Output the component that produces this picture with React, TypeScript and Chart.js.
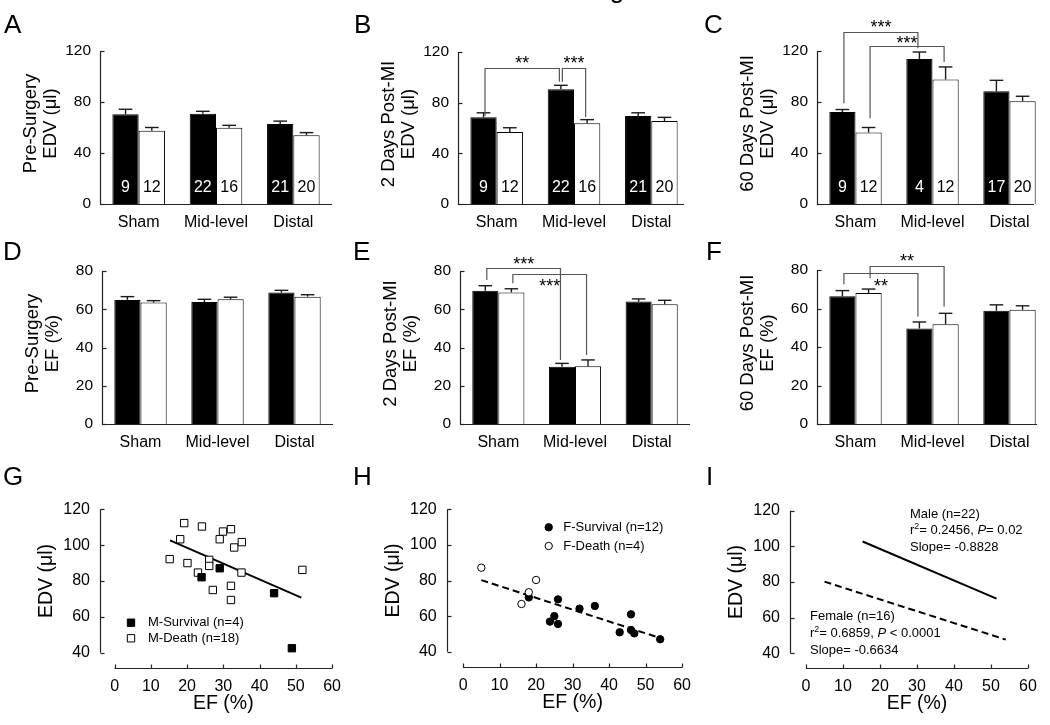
import React, { useEffect, useRef } from "react";
import { Chart, registerables } from "chart.js";

Chart.register(...registerables);

const FONT = '"Liberation Sans", Arial, Helvetica, sans-serif';

// ---------------- shared labels / ticks ----------------
const categories = ["Sham", "Mid-level", "Distal"];
const groupNames = ["Male", "Female"];
const edvTicks = [0, 40, 80, 120];
const efTicks = [0, 20, 40, 60, 80];
const scatterXTicks = [0, 10, 20, 30, 40, 50, 60];
const scatterYTicks = [40, 60, 80, 100, 120];

// ---------------- A: pre-surgery EDV ----------------
const preEdvMale = [70.3, 70.8, 62.7];
const preEdvMaleErr = [4.0, 1.9, 2.3];
const preEdvFemale = [57.5, 59.8, 53.9];
const preEdvFemaleErr = [2.5, 1.9, 2.1];
const nMalePre = [9, 22, 21];
const nFemalePre = [12, 16, 20];

// ---------------- B: 2 days post-MI EDV ----------------
const d2EdvMale = [68.4, 90.5, 69.5];
const d2EdvMaleErr = [3.6, 3.2, 2.5];
const d2EdvFemale = [56.8, 63.7, 65.5];
const d2EdvFemaleErr = [3.4, 2.9, 2.9];
const nMale2d = [9, 22, 21];
const nFemale2d = [12, 16, 20];

// ---------------- C: 60 days post-MI EDV ----------------
const d60EdvMale = [72.2, 113.7, 88.4];
const d60EdvMaleErr = [1.9, 5.5, 8.6];
const d60EdvFemale = [56.1, 97.6, 80.6];
const d60EdvFemaleErr = [3.9, 9.9, 3.9];
const nMale60d = [9, 4, 17];
const nFemale60d = [12, 12, 20];

// ---------------- D: pre-surgery EF ----------------
const preEfMale = [64.9, 63.8, 68.7];
const preEfMaleErr = [1.7, 1.4, 1.2];
const preEfFemale = [63.5, 65.2, 66.6];
const preEfFemaleErr = [1.0, 1.1, 1.0];

// ---------------- E: 2 days post-MI EF ----------------
const d2EfMale = [69.7, 29.9, 64.0];
const d2EfMaleErr = [2.6, 1.8, 1.4];
const d2EfFemale = [68.8, 30.2, 62.6];
const d2EfFemaleErr = [1.9, 3.3, 2.1];

// ---------------- F: 60 days post-MI EF ----------------
const d60EfMale = [66.3, 49.6, 58.8];
const d60EfMaleErr = [3.0, 3.4, 3.1];
const d60EfFemale = [68.0, 51.8, 59.3];
const d60EfFemaleErr = [2.1, 5.7, 2.1];

// ---------------- significance brackets (data units) ----------------
type Bracket = { from: number[]; to: number[]; top: number; leftEnd: number; rightEnd: number; labelY: number; label: string };
const bracketsB: Bracket[] = [
  { from: [0, 0], to: [1, 0], top: 107.6, leftEnd: 69.5, rightEnd: 96.6, labelY: 114.5, label: "**" },
  { from: [1, 0], to: [1, 1], top: 107.6, leftEnd: 96.6, rightEnd: 68.7, labelY: 114.5, label: "***" },
];
const bracketsC: Bracket[] = [
  { from: [0, 0], to: [1, 0], top: 134.9, leftEnd: 79.0, rightEnd: 122.1, labelY: 141.7, label: "***" },
  { from: [0, 1], to: [1, 1], top: 123.7, leftEnd: 67.3, rightEnd: 111.4, labelY: 129.2, label: "***" },
];
const bracketsE: Bracket[] = [
  { from: [0, 0], to: [1, 0], top: 81.7, leftEnd: 75.3, rightEnd: 33.5, labelY: 85.8, label: "***" },
  { from: [0, 1], to: [1, 1], top: 78.3, leftEnd: 73.6, rightEnd: 36.1, labelY: 74.4, label: "***" },
];
const bracketsF: Bracket[] = [
  { from: [0, 0], to: [1, 0], top: 78.3, leftEnd: 72.6, rightEnd: 55.8, labelY: 73.9, label: "**" },
  { from: [0, 1], to: [1, 1], top: 82.2, leftEnd: 75.7, rightEnd: 61.0, labelY: 86.7, label: "**" },
];

// ---------------- G: male EF vs EDV ----------------
const gSurvivalEF = [24.0, 29.0, 44.0, 48.9];
const gSurvivalEDV = [82.1, 87.1, 73.2, 42.5];
const gDeathEF = [15.2, 18.1, 19.2, 20.1, 24.1, 23.0, 26.1, 26.1, 27.1, 29.0, 29.9, 32.1, 33.0, 35.1, 32.1, 32.1, 35.0, 51.8];
const gDeathEDV = [92.2, 103.3, 112.3, 90.0, 110.4, 84.7, 91.8, 88.4, 75.0, 103.3, 107.6, 108.9, 98.7, 101.7, 77.3, 69.4, 84.7, 86.2];
const maleFitEF = [15.3, 51.5];
const maleFitEDV = [102.7, 70.7];

// ---------------- H: female EF vs EDV ----------------
const hSurvivalEF = [18.0, 26.0, 23.8, 25.0, 26.0, 31.9, 36.1, 46.0, 42.9, 46.0, 46.9, 54.0];
const hSurvivalEDV = [70.5, 69.4, 56.9, 60.0, 55.6, 64.2, 65.7, 61.0, 50.9, 52.2, 50.3, 47.0];
const hDeathEF = [5.0, 16.0, 18.0, 20.0];
const hDeathEDV = [87.2, 66.8, 73.4, 80.3];
const femaleFitEF = [5.0, 54.0];
const femaleFitEDV = [80.2, 47.7];

// ---------------- I: annotations ----------------
type Seg = { t: string; sup?: boolean; it?: boolean };
const maleNote: Seg[][] = [
  [{ t: "Male (n=22)" }],
  [{ t: "r" }, { t: "2", sup: true }, { t: "= 0.2456, " }, { t: "P", it: true }, { t: "= 0.02" }],
  [{ t: "Slope= -0.8828" }],
];
const femaleNote: Seg[][] = [
  [{ t: "Female (n=16)" }],
  [{ t: "r" }, { t: "2", sup: true }, { t: "= 0.6859, " }, { t: "P", it: true }, { t: " < 0.0001" }],
  [{ t: "Slope= -0.6634" }],
];

// ---------------- helpers ----------------
function line(ctx: CanvasRenderingContext2D, x1: number, y1: number, x2: number, y2: number) {
  ctx.beginPath();
  ctx.moveTo(x1, y1);
  ctx.lineTo(x2, y2);
  ctx.stroke();
}
const crisp = (v: number) => Math.round(v) + 0.5;

function drawRich(ctx: CanvasRenderingContext2D, x: number, y: number, segs: Seg[], size: number) {
  let cx = x;
  ctx.textAlign = "left";
  ctx.textBaseline = "middle";
  segs.forEach((s) => {
    if (s.sup) {
      ctx.font = `${size * 0.68}px ${FONT}`;
      ctx.fillText(s.t, cx, y - size * 0.33);
    } else {
      ctx.font = `${s.it ? "italic " : ""}${size}px ${FONT}`;
      ctx.fillText(s.t, cx, y);
    }
    cx += ctx.measureText(s.t).width;
  });
}

function drawMarker(ctx: CanvasRenderingContext2D, style: string, filled: boolean, x: number, y: number, r: number) {
  ctx.beginPath();
  if (style === "rect") {
    const s = r * Math.SQRT1_2;
    ctx.rect(x - s, y - s, 2 * s, 2 * s);
  } else {
    ctx.arc(x, y, r, 0, Math.PI * 2);
  }
  ctx.fillStyle = filled ? "#000" : "#fff";
  ctx.fill();
  ctx.strokeStyle = "#000";
  ctx.lineWidth = 1;
  ctx.stroke();
}

// ---------------- bar panels ----------------
interface BarCfg {
  letter: string;
  box: number[]; // canvas left, top, width, height (page px)
  plot: number[]; // plot left, top, right, bottom (page px)
  axisEnd: number;
  yMax: number;
  yTicks: number[];
  title: string[];
  male: number[];
  maleErr: number[];
  female: number[];
  femaleErr: number[];
  nMale?: number[];
  nFemale?: number[];
  brackets: Bracket[];
  letterBase: number[];
  fragment?: boolean;
}

const barPanels: BarCfg[] = [
  {
    letter: "A", box: [0, 0, 350, 240], plot: [100, 51, 332, 204], axisEnd: 332, yMax: 120, yTicks: edvTicks,
    title: ["Pre-Surgery", "EDV (μl)"], male: preEdvMale, maleErr: preEdvMaleErr, female: preEdvFemale, femaleErr: preEdvFemaleErr,
    nMale: nMalePre, nFemale: nFemalePre, brackets: [], letterBase: [4, 33],
  },
  {
    letter: "B", box: [350, 0, 350, 240], plot: [458, 52, 690, 204], axisEnd: 684, yMax: 120, yTicks: edvTicks,
    title: ["2 Days Post-MI", "EDV (μl)"], male: d2EdvMale, maleErr: d2EdvMaleErr, female: d2EdvFemale, femaleErr: d2EdvFemaleErr,
    nMale: nMale2d, nFemale: nFemale2d, brackets: bracketsB, letterBase: [354, 33], fragment: true,
  },
  {
    letter: "C", box: [700, 0, 350, 240], plot: [817, 51, 1048, 204], axisEnd: 1034, yMax: 120, yTicks: edvTicks,
    title: ["60 Days Post-MI", "EDV (μl)"], male: d60EdvMale, maleErr: d60EdvMaleErr, female: d60EdvFemale, femaleErr: d60EdvFemaleErr,
    nMale: nMale60d, nFemale: nFemale60d, brackets: bracketsC, letterBase: [704, 33],
  },
  {
    letter: "D", box: [0, 235, 350, 235], plot: [102, 271, 333, 424], axisEnd: 333, yMax: 80, yTicks: efTicks,
    title: ["Pre-Surgery", "EF (%)"], male: preEfMale, maleErr: preEfMaleErr, female: preEfFemale, femaleErr: preEfFemaleErr,
    brackets: [], letterBase: [3, 260],
  },
  {
    letter: "E", box: [350, 235, 350, 235], plot: [460, 271, 690, 424], axisEnd: 690, yMax: 80, yTicks: efTicks,
    title: ["2 Days Post-MI", "EF (%)"], male: d2EfMale, maleErr: d2EfMaleErr, female: d2EfFemale, femaleErr: d2EfFemaleErr,
    brackets: bracketsE, letterBase: [353, 260],
  },
  {
    letter: "F", box: [700, 235, 350, 235], plot: [817, 270, 1048, 424], axisEnd: 1037, yMax: 80, yTicks: efTicks,
    title: ["60 Days Post-MI", "EF (%)"], male: d60EfMale, maleErr: d60EfMaleErr, female: d60EfFemale, femaleErr: d60EfFemaleErr,
    brackets: bracketsF, letterBase: [706, 260],
  },
];

function makeBarDecor(cfg: BarCfg) {
  return {
    id: "barDecor",
    afterDatasetsDraw(chart: any) {
      const ctx = chart.ctx as CanvasRenderingContext2D;
      const { left, bottom } = chart.chartArea;
      const ys = chart.scales.y;
      const bl = cfg.box[0];
      const vals = [cfg.male, cfg.female];
      const errs = [cfg.maleErr, cfg.femaleErr];
      const ns = [cfg.nMale, cfg.nFemale];
      ctx.save();
      // error bars
      ctx.strokeStyle = "#1a1a1a";
      ctx.lineWidth = 1.4;
      for (let d = 0; d < 2; d++) {
        const meta = chart.getDatasetMeta(d);
        meta.data.forEach((bar: any, i: number) => {
          const y0 = ys.getPixelForValue(vals[d][i]);
          const y1 = ys.getPixelForValue(vals[d][i] + errs[d][i]);
          const hw = bar.width * 0.26;
          line(ctx, bar.x, y0, bar.x, y1);
          line(ctx, bar.x - hw, y1, bar.x + hw, y1);
        });
      }
      // n labels
      ctx.font = `16px ${FONT}`;
      ctx.textAlign = "center";
      ctx.textBaseline = "middle";
      for (let d = 0; d < 2; d++) {
        const n = ns[d];
        if (!n) continue;
        const meta = chart.getDatasetMeta(d);
        ctx.fillStyle = d === 0 ? "#fff" : "#000";
        meta.data.forEach((bar: any, i: number) => ctx.fillText(String(n[i]), bar.x, bottom - 16));
      }
      // axes
      ctx.strokeStyle = "#222";
      ctx.lineWidth = 1.2;
      const ax = crisp(left);
      line(ctx, ax, ys.getPixelForValue(cfg.yMax), ax, bottom + 1);
      line(ctx, left, crisp(bottom), cfg.axisEnd - bl, crisp(bottom));
      cfg.yTicks.forEach((v) => {
        const y = crisp(ys.getPixelForValue(v));
        line(ctx, ax, y, ax + 4, y);
      });
      // brackets
      cfg.brackets.forEach((b) => {
        const xa = chart.getDatasetMeta(b.from[1]).data[b.from[0]].x + 1.5;
        const xb = chart.getDatasetMeta(b.to[1]).data[b.to[0]].x - 1.5;
        const yt = crisp(ys.getPixelForValue(b.top));
        ctx.strokeStyle = "#555";
        ctx.lineWidth = 1.2;
        ctx.beginPath();
        ctx.moveTo(xa, ys.getPixelForValue(b.leftEnd));
        ctx.lineTo(xa, yt);
        ctx.lineTo(xb, yt);
        ctx.lineTo(xb, ys.getPixelForValue(b.rightEnd));
        ctx.stroke();
        ctx.fillStyle = "#000";
        ctx.font = `18px ${FONT}`;
        ctx.textAlign = "center";
        ctx.textBaseline = "alphabetic";
        ctx.fillText(b.label, (xa + xb) / 2, ys.getPixelForValue(b.labelY) + 10);
      });
      ctx.restore();
    },
    afterDraw(chart: any) {
      const ctx = chart.ctx as CanvasRenderingContext2D;
      const { left, top, bottom } = chart.chartArea;
      const [bl, bt] = cfg.box;
      ctx.save();
      ctx.fillStyle = "#000";
      ctx.font = `18.5px ${FONT}`;
      ctx.textAlign = "center";
      ctx.textBaseline = "middle";
      ctx.translate(left - 59.5, (top + bottom) / 2 - 4);
      ctx.rotate(-Math.PI / 2);
      cfg.title.forEach((t, i) => ctx.fillText(t, 0, (i - (cfg.title.length - 1) / 2) * 20));
      ctx.restore();
      ctx.save();
      ctx.fillStyle = "#000";
      ctx.font = `26px ${FONT}`;
      ctx.textAlign = "left";
      ctx.textBaseline = "alphabetic";
      ctx.fillText(cfg.letter, cfg.letterBase[0] - bl, cfg.letterBase[1] - bt);
      if (cfg.fragment) {
        ctx.textAlign = "center";
        ctx.fillText("g", 617 - bl, -2 - bt);
      }
      ctx.restore();
    },
  };
}

function BarPanel({ cfg }: { cfg: BarCfg }) {
  const ref = useRef<HTMLCanvasElement>(null);
  useEffect(() => {
    const canvas = ref.current!;
    const [bl, bt, bw, bh] = cfg.box;
    const [pl, pt, pr, pb] = cfg.plot;
    const chart = new Chart(canvas, {
      type: "bar",
      data: {
        labels: categories,
        datasets: [
          { label: groupNames[0], data: cfg.male, backgroundColor: "#000", borderColor: "#000", borderWidth: 1, categoryPercentage: 0.68, barPercentage: 1 },
          { label: groupNames[1], data: cfg.female, backgroundColor: "#fff", borderColor: "#000", borderWidth: 1, categoryPercentage: 0.68, barPercentage: 1 },
        ],
      },
      options: {
        responsive: false,
        maintainAspectRatio: false,
        animation: false,
        devicePixelRatio: 1,
        events: [],
        layout: { autoPadding: false, padding: { left: 0, top: pt - bt, right: bl + bw - pr, bottom: 0 } },
        plugins: { legend: { display: false }, tooltip: { enabled: false }, title: { display: false } },
        scales: {
          x: {
            type: "category",
            offset: true,
            grid: { display: false, drawTicks: false },
            border: { display: false },
            ticks: { color: "#000", font: { family: FONT, size: 16 }, padding: 9, maxRotation: 0, autoSkip: false },
            afterFit: (s: any) => { s.height = bt + bh - pb; },
          },
          y: {
            type: "linear",
            min: 0,
            max: cfg.yMax,
            grid: { display: false, drawTicks: false },
            border: { display: false },
            ticks: { color: "#000", font: { family: FONT, size: 15.5 }, padding: 9 },
            afterBuildTicks: (s: any) => { s.ticks = cfg.yTicks.map((v) => ({ value: v })); },
            afterFit: (s: any) => { s.width = pl - bl; },
          },
        },
      } as any,
      plugins: [makeBarDecor(cfg)],
    });
    return () => chart.destroy();
  }, [cfg]);
  const [l, t, w, h] = cfg.box;
  return <canvas ref={ref} width={w} height={h} style={{ position: "absolute", left: l, top: t, width: w, height: h }} />;
}

// ---------------- scatter panels ----------------
interface Series { label: string; x: number[]; y: number[]; style: string; filled: boolean; order: number }
interface Fit { label: string; x: number[]; y: number[]; dashed: boolean }
interface ScatterCfg {
  letter: string;
  box: number[];
  plot: number[];
  xMin: number;
  yMin: number;
  letterBase: number[];
  series: Series[];
  fits: Fit[];
  legend?: { x: number; y: number; dy: number; textX: number };
  notes?: { x: number; y: number; lines: Seg[][] }[];
}

const scatterPanels: ScatterCfg[] = [
  {
    letter: "G", box: [0, 455, 350, 270], plot: [100, 509.3, 339, 668.3], xMin: -4.02, yMin: 31.3, letterBase: [3, 485],
    series: [
      { label: "M-Survival (n=4)", x: gSurvivalEF, y: gSurvivalEDV, style: "rect", filled: true, order: 0 },
      { label: "M-Death (n=18)", x: gDeathEF, y: gDeathEDV, style: "rect", filled: false, order: 1 },
    ],
    fits: [{ label: "Male fit", x: maleFitEF, y: maleFitEDV, dashed: false }],
    legend: { x: 131, y: 622.7, dy: 15.6, textX: 148 },
  },
  {
    letter: "H", box: [350, 455, 350, 270], plot: [446.7, 509.3, 685, 667.3], xMin: -4.49, yMin: 31.24, letterBase: [353, 485],
    series: [
      { label: "F-Survival (n=12)", x: hSurvivalEF, y: hSurvivalEDV, style: "circle", filled: true, order: 1 },
      { label: "F-Death (n=4)", x: hDeathEF, y: hDeathEDV, style: "circle", filled: false, order: 0 },
    ],
    fits: [{ label: "Female fit", x: femaleFitEF, y: femaleFitEDV, dashed: true }],
    legend: { x: 548.7, y: 527.3, dy: 18.7, textX: 563.3 },
  },
  {
    letter: "I", box: [700, 455, 350, 270], plot: [790, 510.7, 1028, 668.3], xMin: -4.32, yMin: 31.6, letterBase: [706, 485],
    series: [],
    fits: [
      { label: "Male fit", x: maleFitEF, y: maleFitEDV, dashed: false },
      { label: "Female fit", x: femaleFitEF, y: femaleFitEDV, dashed: true },
    ],
    notes: [
      { x: 910, y: 514, lines: maleNote },
      { x: 810, y: 616.7, lines: femaleNote },
    ],
  },
];

const markerRadius = (style: string) => (style === "rect" ? 5.2 : 3.7);

function makeScatterDecor(cfg: ScatterCfg) {
  return {
    id: "scatterDecor",
    afterDraw(chart: any) {
      const ctx = chart.ctx as CanvasRenderingContext2D;
      const xs = chart.scales.x;
      const ys = chart.scales.y;
      const { left, bottom } = chart.chartArea;
      const [bl, bt] = cfg.box;
      ctx.save();
      ctx.strokeStyle = "#222";
      ctx.lineWidth = 1.2;
      const ax = crisp(left);
      const ay = crisp(bottom);
      line(ctx, ax, ys.getPixelForValue(120), ax, ys.getPixelForValue(40));
      scatterYTicks.forEach((v) => {
        const y = crisp(ys.getPixelForValue(v));
        line(ctx, ax, y, ax + 4, y);
      });
      line(ctx, xs.getPixelForValue(0), ay, xs.getPixelForValue(60), ay);
      scatterXTicks.forEach((v) => {
        const x = crisp(xs.getPixelForValue(v));
        line(ctx, x, ay, x, ay - 4);
      });
      // axis titles
      ctx.fillStyle = "#000";
      ctx.font = `19.5px ${FONT}`;
      ctx.textAlign = "center";
      ctx.textBaseline = "middle";
      ctx.fillText("EF (%)", (xs.getPixelForValue(0) + xs.getPixelForValue(60)) / 2, bottom + 35);
      ctx.save();
      ctx.translate(left - 53, (ys.getPixelForValue(40) + ys.getPixelForValue(120)) / 2);
      ctx.rotate(-Math.PI / 2);
      ctx.fillText("EDV (μl)", 0, 0);
      ctx.restore();
      // legend
      if (cfg.legend) {
        const lg = cfg.legend;
        cfg.series.forEach((s, i) => {
          const y = lg.y + i * lg.dy - bt;
          drawMarker(ctx, s.style, s.filled, lg.x - bl, y, markerRadius(s.style));
          ctx.fillStyle = "#000";
          ctx.font = `13px ${FONT}`;
          ctx.textAlign = "left";
          ctx.textBaseline = "middle";
          ctx.fillText(s.label, lg.textX - bl, y);
        });
      }
      // notes
      if (cfg.notes) {
        ctx.fillStyle = "#000";
        cfg.notes.forEach((n) => {
          n.lines.forEach((segs, i) => drawRich(ctx, n.x - bl, n.y - bt + i * 16.7, segs, 13));
        });
      }
      // panel letter
      ctx.fillStyle = "#000";
      ctx.font = `26px ${FONT}`;
      ctx.textAlign = "left";
      ctx.textBaseline = "alphabetic";
      ctx.fillText(cfg.letter, cfg.letterBase[0] - bl, cfg.letterBase[1] - bt);
      ctx.restore();
    },
  };
}

function ScatterPanel({ cfg }: { cfg: ScatterCfg }) {
  const ref = useRef<HTMLCanvasElement>(null);
  useEffect(() => {
    const canvas = ref.current!;
    const [bl, bt, bw, bh] = cfg.box;
    const [pl, pt, pr, pb] = cfg.plot;
    const datasets: any[] = [
      ...cfg.series.map((s) => ({
        label: s.label,
        data: s.x.map((v, i) => ({ x: v, y: s.y[i] })),
        pointStyle: s.style,
        pointRadius: markerRadius(s.style),
        pointBackgroundColor: s.filled ? "#000" : "#fff",
        pointBorderColor: "#000",
        pointBorderWidth: 1,
        showLine: false,
        clip: false,
        order: s.order,
      })),
      ...cfg.fits.map((f) => ({
        label: f.label,
        data: f.x.map((v, i) => ({ x: v, y: f.y[i] })),
        showLine: true,
        borderColor: "#000",
        borderWidth: 2,
        borderDash: f.dashed ? [7, 4] : [],
        pointRadius: 0,
        fill: false,
        tension: 0,
        clip: false,
        order: 5,
      })),
    ];
    const chart = new Chart(canvas, {
      type: "scatter",
      data: { datasets },
      options: {
        responsive: false,
        maintainAspectRatio: false,
        animation: false,
        devicePixelRatio: 1,
        events: [],
        layout: { autoPadding: false, padding: { left: 0, top: pt - bt, right: bl + bw - pr, bottom: 0 } },
        plugins: { legend: { display: false }, tooltip: { enabled: false }, title: { display: false } },
        scales: {
          x: {
            type: "linear",
            min: cfg.xMin,
            max: 60,
            grid: { display: false, drawTicks: false },
            border: { display: false },
            ticks: { color: "#000", font: { family: FONT, size: 16 }, padding: 9, maxRotation: 0, autoSkip: false },
            afterBuildTicks: (s: any) => { s.ticks = scatterXTicks.map((v) => ({ value: v })); },
            afterFit: (s: any) => { s.height = bt + bh - pb; },
          },
          y: {
            type: "linear",
            min: cfg.yMin,
            max: 120,
            grid: { display: false, drawTicks: false },
            border: { display: false },
            ticks: { color: "#000", font: { family: FONT, size: 16 }, padding: 10 },
            afterBuildTicks: (s: any) => { s.ticks = scatterYTicks.map((v) => ({ value: v })); },
            afterFit: (s: any) => { s.width = pl - bl; },
          },
        },
      } as any,
      plugins: [makeScatterDecor(cfg)],
    });
    return () => chart.destroy();
  }, [cfg]);
  const [l, t, w, h] = cfg.box;
  return <canvas ref={ref} width={w} height={h} style={{ position: "absolute", left: l, top: t, width: w, height: h }} />;
}

export default function App() {
  return (
    <div style={{ position: "absolute", left: 0, top: 0, width: 1050, height: 725, background: "#fff", overflow: "hidden" }}>
      {barPanels.map((p) => (
        <BarPanel key={p.letter} cfg={p} />
      ))}
      {scatterPanels.map((p) => (
        <ScatterPanel key={p.letter} cfg={p} />
      ))}
    </div>
  );
}
